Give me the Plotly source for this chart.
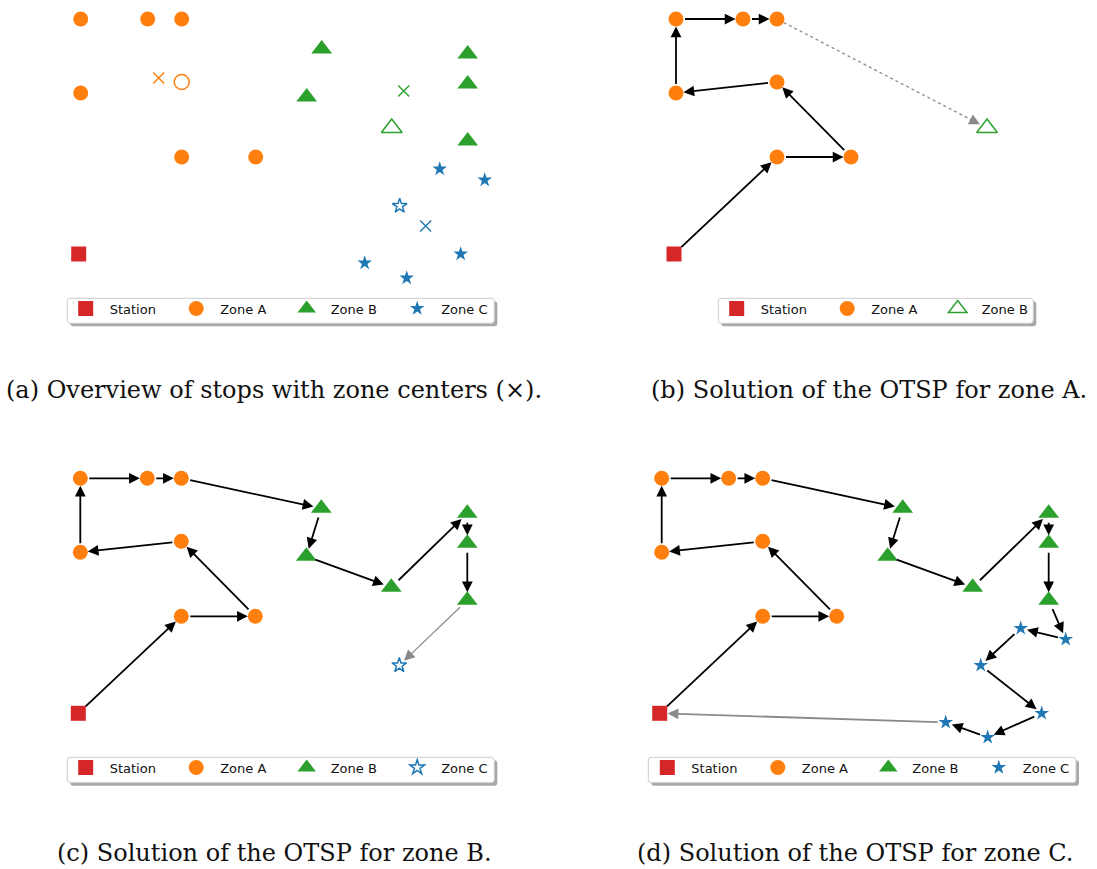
import math
import plotly.graph_objects as go

FIG_W, FIG_H = 1097, 869
PX_PER_KM = 10.0  # identical scale on every panel and both axes

# ---------------------------------------------------------------- data (km)
STATION_X = [0.0]
STATION_Y = [0.0]

ZONE_A_X = [0.2, 6.9, 10.3, 0.2, 10.3, 10.3, 17.7]
ZONE_A_Y = [23.5, 23.5, 23.5, 16.1, 17.2, 9.7, 9.7]

ZONE_B_X = [24.3, 38.9, 38.9, 22.8, 31.3, 38.9]
ZONE_B_Y = [20.5, 20.0, 17.0, 15.7, 12.6, 11.3]

ZONE_C_X = [36.1, 40.6, 32.1, 38.2, 28.6, 32.8]
ZONE_C_Y = [8.5, 7.4, 4.8, 0.0, -0.9, -2.4]

# zone centers (A, B, C)
CENTER_X = [8.0, 32.5, 34.7]
CENTER_Y = [17.6, 16.3, 2.8]

# stop of each zone closest to its center
ENTRY_A, ENTRY_B, ENTRY_C = 4, 4, 2

# visiting order inside each zone (indices into the zone lists)
TOUR_A = [5, 6, 4, 3, 0, 1, 2]
TOUR_B = [0, 3, 4, 1, 2, 5]
TOUR_C = [1, 0, 2, 3, 5, 4]

ZONE_NAMES = ["Station", "Zone A", "Zone B", "Zone C"]
CAPTIONS = [
    "(a) Overview of stops with zone centers (×).",
    "(b) Solution of the OTSP for zone A.",
    "(c) Solution of the OTSP for zone B.",
    "(d) Solution of the OTSP for zone C.",
]

# ---------------------------------------------------------------- styles
COLOR = {"Station": "#d62728", "Zone A": "#ff7f0e", "Zone B": "#2ca02c", "Zone C": "#1f77b4"}
SYMBOL = {"Station": "square", "Zone A": "circle", "Zone B": "triangle-up", "Zone C": "star"}
SIZE = {"Station": 15, "Zone A": 15, "Zone B": 18, "Zone C": 11}
STANDOFF = {"Station": 8, "Zone A": 7.5, "Zone B": 8, "Zone C": 6.5}
ARROW_BLACK = "#000000"
ARROW_GRAY = "#8a8a8a"
HEAD = 2.15  # arrowhead length factor (px per unit path length)

# panel geometry in pixels: station anchor and plotting box (left, right, top, bottom)
PANELS = [
    dict(sx=78.7, sy=254.0, box=(0, 548, 0, 345)),
    dict(sx=674.0, sy=254.0, box=(549, 1097, 0, 345)),
    dict(sx=78.3, sy=713.3, box=(0, 548, 420, 800)),
    dict(sx=659.7, sy=713.3, box=(549, 1097, 420, 800)),
]
# legend boxes (left, top, right, bottom) and first legend-marker x, in pixels
LEGEND_BOX = [
    (67.3, 298.3, 494.3, 323.3),
    (718.3, 298.3, 1033.3, 323.3),
    (67.3, 757.3, 494.3, 782.7),
    (648.3, 757.3, 1076.0, 782.7),
]
LEGEND_FIRST_MARKER = [85.7, 736.7, 85.7, 667.3]
CAPTION_POS = [(273.5, 390), (869, 390), (274.5, 853), (855, 853)]

fig = go.Figure()
annotations = []
shapes = []

zones = {
    "Zone A": (ZONE_A_X, ZONE_A_Y),
    "Zone B": (ZONE_B_X, ZONE_B_Y),
    "Zone C": (ZONE_C_X, ZONE_C_Y),
}


def ax_names(i):
    s = "" if i == 0 else str(i + 1)
    return "x" + s, "y" + s, "legend" + s


def add_points(i, name, xs, ys, hollow=False, legend=False):
    xr, yr, lg = ax_names(i)
    sym = SYMBOL[name] + ("-open" if hollow else "")
    fig.add_trace(go.Scatter(
        x=xs, y=ys, mode="markers", name=name, xaxis=xr, yaxis=yr,
        legend=lg, showlegend=legend, hoverinfo="skip",
        marker=dict(symbol=sym, size=SIZE[name], color=COLOR[name],
                    line=dict(width=1.5 if hollow else 0, color=COLOR[name])),
    ))


def add_arrow(i, p, q, target, color=ARROW_BLACK, width=1.8, source=None):
    xr, yr, _ = ax_names(i)
    annotations.append(dict(
        x=q[0], y=q[1], ax=p[0], ay=p[1], xref=xr, yref=yr, axref=xr, ayref=yr,
        text="", showarrow=True, arrowhead=2, arrowsize=HEAD / width,
        arrowwidth=width, arrowcolor=color,
        standoff=STANDOFF[target], startstandoff=STANDOFF[source] if source else 0,
    ))


def add_dotted_arrow(i, p, q, target, color=ARROW_GRAY, width=1.3):
    xr, yr, _ = ax_names(i)
    dx, dy = q[0] - p[0], q[1] - p[1]
    d = math.hypot(dx, dy)
    ux, uy = dx / d, dy / d
    stop = STANDOFF[target] / PX_PER_KM
    fig.add_trace(go.Scatter(
        x=[p[0] + ux * 0.75, q[0] - ux * stop], y=[p[1] + uy * 0.75, q[1] - uy * stop],
        mode="lines", xaxis=xr, yaxis=yr, showlegend=False, hoverinfo="skip",
        line=dict(color=color, width=width, dash="dot"),
    ))
    tail = STANDOFF[target] + 12
    annotations.append(dict(
        x=q[0], y=q[1], ax=-ux * tail, ay=uy * tail, xref=xr, yref=yr,
        text="", showarrow=True, arrowhead=2, arrowsize=HEAD / width,
        arrowwidth=width, arrowcolor=color, standoff=STANDOFF[target],
    ))


def pt(name, k):
    xs, ys = zones[name]
    return (xs[k], ys[k])


station = (STATION_X[0], STATION_Y[0])


def zone_path(name, tour):
    return [pt(name, k) for k in tour]


path_a = zone_path("Zone A", TOUR_A)
path_b = zone_path("Zone B", TOUR_B)
path_c = zone_path("Zone C", TOUR_C)


def chain(i, start, start_name, path, name):
    prev, prev_name = start, start_name
    for q in path:
        add_arrow(i, prev, q, name, source=prev_name)
        prev, prev_name = q, name
    return prev


# ---------------------------------------------------------------- panel (a)
add_points(0, "Station", STATION_X, STATION_Y, legend=True)
for zi, (name, entry) in enumerate([("Zone A", ENTRY_A), ("Zone B", ENTRY_B), ("Zone C", ENTRY_C)]):
    xs, ys = zones[name]
    add_points(0, name, [v for k, v in enumerate(xs) if k != entry],
               [v for k, v in enumerate(ys) if k != entry], legend=True)
    add_points(0, name, [xs[entry]], [ys[entry]], hollow=True)
    xr, yr, _ = ax_names(0)
    fig.add_trace(go.Scatter(
        x=[CENTER_X[zi]], y=[CENTER_Y[zi]], mode="markers", xaxis=xr, yaxis=yr,
        showlegend=False, hoverinfo="skip",
        marker=dict(symbol="x-thin-open", size=11, color=COLOR[name],
                    line=dict(width=1.4, color=COLOR[name])),
    ))

# ---------------------------------------------------------------- panel (b)
add_dotted_arrow(1, path_a[-1], pt("Zone B", ENTRY_B), "Zone B")
add_points(1, "Station", STATION_X, STATION_Y, legend=True)
add_points(1, "Zone A", ZONE_A_X, ZONE_A_Y, legend=True)
add_points(1, "Zone B", [ZONE_B_X[ENTRY_B]], [ZONE_B_Y[ENTRY_B]], hollow=True, legend=True)
chain(1, station, "Station", path_a, "Zone A")

# ---------------------------------------------------------------- panel (c)
add_points(2, "Station", STATION_X, STATION_Y, legend=True)
add_points(2, "Zone A", ZONE_A_X, ZONE_A_Y, legend=True)
add_points(2, "Zone B", ZONE_B_X, ZONE_B_Y, legend=True)
add_points(2, "Zone C", [ZONE_C_X[ENTRY_C]], [ZONE_C_Y[ENTRY_C]], hollow=True, legend=True)
end_a = chain(2, station, "Station", path_a, "Zone A")
end_b = chain(2, end_a, "Zone A", path_b, "Zone B")
add_arrow(2, end_b, pt("Zone C", ENTRY_C), "Zone C", color=ARROW_GRAY, width=1.2, source="Zone B")

# ---------------------------------------------------------------- panel (d)
add_points(3, "Station", STATION_X, STATION_Y, legend=True)
add_points(3, "Zone A", ZONE_A_X, ZONE_A_Y, legend=True)
add_points(3, "Zone B", ZONE_B_X, ZONE_B_Y, legend=True)
add_points(3, "Zone C", ZONE_C_X, ZONE_C_Y, legend=True)
end_a = chain(3, station, "Station", path_a, "Zone A")
end_b = chain(3, end_a, "Zone A", path_b, "Zone B")
end_c = chain(3, end_b, "Zone B", path_c, "Zone C")
add_arrow(3, end_c, station, "Station", color=ARROW_GRAY, width=1.8, source="Zone C")

# ---------------------------------------------------------------- layout
layout = dict(
    width=FIG_W, height=FIG_H, margin=dict(l=0, r=0, t=0, b=0),
    paper_bgcolor="white", plot_bgcolor="rgba(0,0,0,0)",
    font=dict(family="DejaVu Sans", color="#000000"),
)

for i, p in enumerate(PANELS):
    xr, yr, lg = ax_names(i)
    x0, x1, y0, y1 = p["box"]
    xkey = "xaxis" + xr[1:]
    ykey = "yaxis" + yr[1:]
    layout[xkey] = dict(
        domain=[x0 / FIG_W, x1 / FIG_W],
        range=[(x0 - p["sx"]) / PX_PER_KM, (x1 - p["sx"]) / PX_PER_KM],
        visible=False, anchor=yr, fixedrange=True,
    )
    layout[ykey] = dict(
        domain=[1 - y1 / FIG_H, 1 - y0 / FIG_H],
        range=[(p["sy"] - y1) / PX_PER_KM, (p["sy"] - y0) / PX_PER_KM],
        visible=False, anchor=xr, fixedrange=True,
    )

    # legend frame with drop shadow
    l, t, r, b = LEGEND_BOX[i]
    rad = 3.0
    for off, fill, line in [(3.0, "#a8a8a8", "rgba(0,0,0,0)"), (0.0, "white", "#cccccc")]:
        L, T, R, B = l + off, t + off, r + off, b + off
        fx = lambda v: v / FIG_W
        fy = lambda v: 1 - v / FIG_H
        path = (
            f"M{fx(L + rad)},{fy(T)} L{fx(R - rad)},{fy(T)} Q{fx(R)},{fy(T)} {fx(R)},{fy(T + rad)} "
            f"L{fx(R)},{fy(B - rad)} Q{fx(R)},{fy(B)} {fx(R - rad)},{fy(B)} "
            f"L{fx(L + rad)},{fy(B)} Q{fx(L)},{fy(B)} {fx(L)},{fy(B - rad)} "
            f"L{fx(L)},{fy(T + rad)} Q{fx(L)},{fy(T)} {fx(L + rad)},{fy(T)} Z"
        )
        shapes.append(dict(type="path", xref="paper", yref="paper", path=path,
                           fillcolor=fill, line=dict(color=line, width=1), layer="below"))

    layout[lg] = dict(
        orientation="h", xanchor="left", yanchor="top",
        x=(LEGEND_FIRST_MARKER[i] - 24) / FIG_W, y=1 - (t - 4.8) / FIG_H,
        bgcolor="rgba(0,0,0,0)", borderwidth=0,
        itemwidth=38, entrywidth=57.5, entrywidthmode="pixels",
        font=dict(family="DejaVu Sans", size=13, color="#111111"),
        itemclick=False, itemdoubleclick=False,
    )

for cap, (cx, cy) in zip(CAPTIONS, CAPTION_POS):
    annotations.append(dict(
        text=cap, x=cx / FIG_W, y=1 - cy / FIG_H, xref="paper", yref="paper",
        showarrow=False, xanchor="center", yanchor="middle",
        font=dict(family="DejaVu Serif", size=24, color="#111111"),
    ))

layout["annotations"] = annotations
layout["shapes"] = shapes
fig.update_layout(**layout)
fig.write_html("out.html")
